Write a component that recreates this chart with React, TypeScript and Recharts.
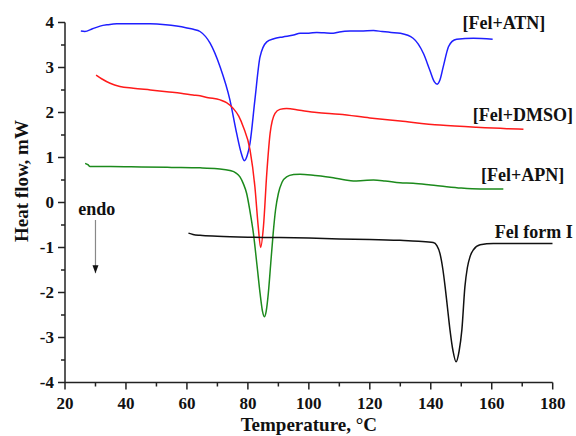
import { LineChart, Line, XAxis, YAxis, ReferenceDot } from "recharts";

// DSC traces, temperature (°C) and heat flow (mW)
const atnTemp = [25.2, 26.5, 29, 31.5, 34, 37, 42, 47.9, 53, 56.6, 60, 62.1, 64.3, 67.6, 70.9, 74.1, 76.3, 77.8, 78.8, 79.8, 80.7, 82.3, 84.0, 86.2, 88.5, 91.5, 95, 97.1, 100, 102.6, 105, 108, 110, 113.5, 117, 121.2, 124, 127, 130, 134.2, 137.6, 139.7, 141.2, 142.1, 143.0, 144.1, 145.8, 147, 148.5, 154, 160.3];
const atnFlow = [3.81, 3.80, 3.86, 3.92, 3.95, 3.97, 3.97, 3.97, 3.95, 3.92, 3.88, 3.85, 3.80, 3.54, 3.01, 2.28, 1.54, 1.10, 0.93, 1.05, 1.32, 2.28, 3.24, 3.57, 3.64, 3.68, 3.72, 3.76, 3.76, 3.78, 3.77, 3.76, 3.79, 3.81, 3.81, 3.82, 3.80, 3.78, 3.76, 3.65, 3.31, 2.94, 2.68, 2.63, 2.72, 3.02, 3.46, 3.58, 3.63, 3.65, 3.63];

const dmsoTemp = [30.2, 32, 34.8, 38, 42.4, 48, 53.4, 58, 62, 64.3, 67, 70.9, 73, 75.2, 77, 78.5, 80.7, 82.3, 83.4, 84.2, 85.1, 86.2, 87.3, 88.9, 90.5, 92.7, 97, 102.6, 110, 120, 130, 143, 155, 165, 170.4];
const dmsoFlow = [2.83, 2.75, 2.65, 2.58, 2.54, 2.50, 2.46, 2.43, 2.39, 2.37, 2.33, 2.28, 2.22, 2.09, 1.92, 1.68, 1.17, 0.35, -0.54, -1.0, -0.54, 0.65, 1.54, 1.98, 2.07, 2.09, 2.05, 2.0, 1.96, 1.88, 1.81, 1.72, 1.67, 1.64, 1.63];

const apnTemp = [26.6, 27.5, 28.2, 35, 45, 55, 64.3, 70, 74.1, 76, 77.4, 78.5, 79.6, 80.7, 81.8, 83, 84.0, 84.8, 85.4, 86.0, 86.7, 87.5, 88.3, 89.1, 90.0, 91.2, 92.7, 95, 97.1, 102, 108, 112, 114.6, 118, 121.2, 125, 129.9, 134.2, 140, 145.2, 150, 156.2, 163.8];
const apnFlow = [0.87, 0.84, 0.80, 0.80, 0.79, 0.78, 0.77, 0.75, 0.71, 0.66, 0.57, 0.42, 0.20, -0.2, -0.68, -1.4, -2.02, -2.42, -2.54, -2.42, -2.02, -1.35, -0.68, -0.15, 0.20, 0.45, 0.57, 0.62, 0.63, 0.60, 0.55, 0.50, 0.48, 0.49, 0.50, 0.48, 0.44, 0.43, 0.39, 0.35, 0.32, 0.30, 0.30];

const formITemp = [60.5, 62, 64.3, 70, 80, 90, 100, 110, 120, 129.9, 136, 140.8, 142, 143, 144, 144.7, 145.5, 146.3, 147.3, 148.3, 149.3, 150.2, 151.2, 152, 152.9, 154, 156.2, 160.5, 170, 180];
const formIFlow = [-0.68, -0.71, -0.73, -0.75, -0.77, -0.78, -0.79, -0.81, -0.82, -0.84, -0.86, -0.89, -0.96, -1.13, -1.5, -1.87, -2.35, -2.83, -3.3, -3.54, -3.3, -2.83, -1.87, -1.45, -1.2, -1.05, -0.94, -0.91, -0.91, -0.91];

const xTicks = [20, 30, 40, 50, 60, 70, 80, 90, 100, 110, 120, 130, 140, 150, 160, 170, 180];
const yTicks = [-4, -3.5, -3, -2.5, -2, -1.5, -1, -0.5, 0, 0.5, 1, 1.5, 2, 2.5, 3, 3.5, 4];

const seriesNames = ["[Fel+ATN]", "[Fel+DMSO]", "[Fel+APN]", "Fel form I"];
const seriesColors = ["#1f1fff", "#ff1a1a", "#1c8a1c", "#111111"];

const arrowTemp = [30, 30];
const arrowFlow = [-0.39, -1.57];

const toRows = (t: number[], v: number[]) => t.map((x, i) => ({ t: x, v: v[i] }));

const font = "'Liberation Serif', 'Times New Roman', serif";
const axisColor = "#222";

const XTick = (props: any) => {
    const { x, y, payload } = props;
    const major = payload.value % 20 === 0;
    return (
        <g>
            <line x1={x} y1={y} x2={x} y2={y + (major ? 7 : 4)} stroke={axisColor} strokeWidth={1.5} />
            {major && (
                <text x={x} y={y + 21} textAnchor="middle" dominantBaseline="central"
                    fontFamily={font} fontWeight="bold" fontSize={17} fill="#111">
                    {payload.value}
                </text>
            )}
        </g>
    );
};

const YTick = (props: any) => {
    const { x, y, payload } = props;
    const major = payload.value % 1 === 0;
    return (
        <g>
            <line x1={x} y1={y} x2={x - (major ? 7 : 4)} y2={y} stroke={axisColor} strokeWidth={1.5} />
            {major && (
                <text x={x - 11} y={y} textAnchor="end" dominantBaseline="central"
                    fontFamily={font} fontWeight="bold" fontSize={17} fill="#111">
                    {String(payload.value)}
                </text>
            )}
        </g>
    );
};

const textShape = (value: string) => (p: any) => (
    <text x={p.cx} y={p.cy} textAnchor="middle" dominantBaseline="central"
        fontFamily={font} fontWeight="bold" fontSize={18} fill="#111">
        {value}
    </text>
);

const ArrowHead = (p: any) => {
    if (p.index !== 1) return <g key={p.index} />;
    return (
        <polygon key={p.index}
            points={`${p.cx - 3},${p.cy - 8} ${p.cx + 3},${p.cy - 8} ${p.cx},${p.cy}`}
            fill="#111" />
    );
};

export default function App() {
    const series = [
        toRows(atnTemp, atnFlow),
        toRows(dmsoTemp, dmsoFlow),
        toRows(apnTemp, apnFlow),
        toRows(formITemp, formIFlow),
    ];
    // label anchors in data units (°C, mW)
    const labelSpots = [
        { t: 164.0, v: 4.0 },
        { t: 170.2, v: 1.94 },
        { t: 170.1, v: 0.61 },
        { t: 173.8, v: -0.65 },
    ];

    return (
        <div style={{ position: "absolute", left: 0, top: 0, background: "#fff" }}>
            <LineChart width={576} height={436} margin={{ top: 22.5, right: 23.3, bottom: 0, left: 20 }}>
                <XAxis
                    type="number"
                    dataKey="t"
                    domain={[20, 180]}
                    ticks={xTicks}
                    interval={0}
                    tickSize={0}
                    tickMargin={0}
                    tickLine={false}
                    tick={<XTick />}
                    height={53.5}
                    axisLine={{ stroke: axisColor, strokeWidth: 1.5 }}
                    allowDataOverflow
                    label={{
                        value: "Temperature, °C",
                        position: "insideBottom",
                        offset: 0,
                        content: ({ viewBox }: any) => (
                            <text x={viewBox.x + viewBox.width / 2} y={424} textAnchor="middle"
                                dominantBaseline="central" fontFamily={font} fontWeight="bold"
                                fontSize={19} fill="#111">
                                Temperature, °C
                            </text>
                        ),
                    }}
                />
                <YAxis
                    type="number"
                    domain={[-4, 4]}
                    ticks={yTicks}
                    interval={0}
                    tickSize={0}
                    tickMargin={0}
                    tickLine={false}
                    tick={<YTick />}
                    width={45}
                    axisLine={{ stroke: axisColor, strokeWidth: 1.5 }}
                    allowDataOverflow
                    label={{
                        value: "Heat flow, mW",
                        position: "insideLeft",
                        content: () => (
                            <text x={21} y={181} transform="rotate(-90 21 181)" textAnchor="middle"
                                dominantBaseline="central" fontFamily={font} fontWeight="bold"
                                fontSize={19} fill="#111">
                                Heat flow, mW
                            </text>
                        ),
                    }}
                />
                {series.map((rows, i) => (
                    <Line
                        key={seriesNames[i]}
                        data={rows}
                        dataKey="v"
                        type="monotone"
                        stroke={seriesColors[i]}
                        strokeWidth={1.5}
                        dot={false}
                        activeDot={false}
                        isAnimationActive={false}
                    />
                ))}
                <Line
                    data={toRows(arrowTemp, arrowFlow)}
                    dataKey="v"
                    type="linear"
                    stroke="#888"
                    strokeWidth={1.2}
                    dot={<ArrowHead />}
                    activeDot={false}
                    isAnimationActive={false}
                />
                {seriesNames.map((name, i) => (
                    <ReferenceDot key={name} x={labelSpots[i].t} y={labelSpots[i].v} r={0}
                        shape={textShape(name)} />
                ))}
                <ReferenceDot x={30.4} y={-0.15} r={0} shape={textShape("endo")} />
            </LineChart>
        </div>
    );
}
